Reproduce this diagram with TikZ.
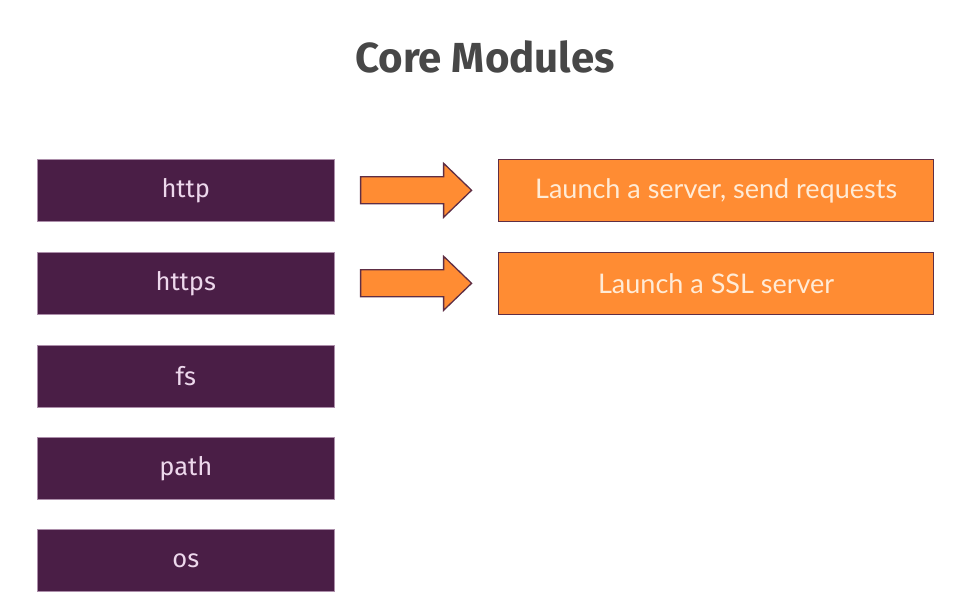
\documentclass[tikz,border=0pt]{standalone}
\usepackage{fontspec}
\setmainfont{Fira Sans}
\newfontfamily\boxfont{Lato}
\usetikzlibrary{positioning}
\definecolor{plum}{HTML}{4A1E46}
\definecolor{plumtext}{HTML}{EDD8EC}
\definecolor{tangerine}{HTML}{FF8C33}
\definecolor{tangtext}{HTML}{FFEBD6}
\definecolor{edge}{HTML}{5E2E45}
\definecolor{titlegray}{HTML}{474747}
\begin{document}
\begin{tikzpicture}[x=1pt,y=-1pt,
  module/.style={rectangle, fill=plum, draw=plumtext!60!plum, line width=0.6pt,
    minimum width=297pt, minimum height=62pt, inner sep=0pt, anchor=north west,
    text=plumtext, font=\fontsize{25.5}{30}\selectfont},
  usage/.style={rectangle, fill=tangerine, draw=edge, line width=1.3pt,
    minimum width=435pt, minimum height=62pt, inner sep=0pt, anchor=north west,
    text=tangtext, font=\boxfont\fontsize{27}{32}\selectfont},
  blockarrow/.style={fill=tangerine, draw=edge, line width=1.3pt, line join=miter}]
\useasboundingbox (0,0) rectangle (956,612);

% title
\node[text=titlegray, font=\bfseries\fontsize{42}{48}\selectfont] (title) at (485,57) {Core Modules};

% module column
\node[module] (http)  at (37,159) {http};
\node[module] (https) at (37,252) {https};
\node[module] (fs)    at (37,345) {fs};
\node[module] (path)  at (37,437) {path};
\node[module] (os)    at (37,529) {os};

% descriptions
\node[usage] (httpuse)  at (498,159) {Launch a server, send requests};
\node[usage] (httpsuse) at (498,252) {Launch a SSL server};

% block arrows between the two columns
\foreach \src in {http,https}{
  \path (\src.east) ++(26,0) coordinate (\src-a);
  \draw[blockarrow] (\src-a) ++(0,-13.5) -- ++(83,0) -- ++(0,-13.5) -- ++(28,27)
    -- ++(-28,27) -- ++(0,-13.5) -- ++(-83,0) -- cycle;
}
\end{tikzpicture}
\end{document}
